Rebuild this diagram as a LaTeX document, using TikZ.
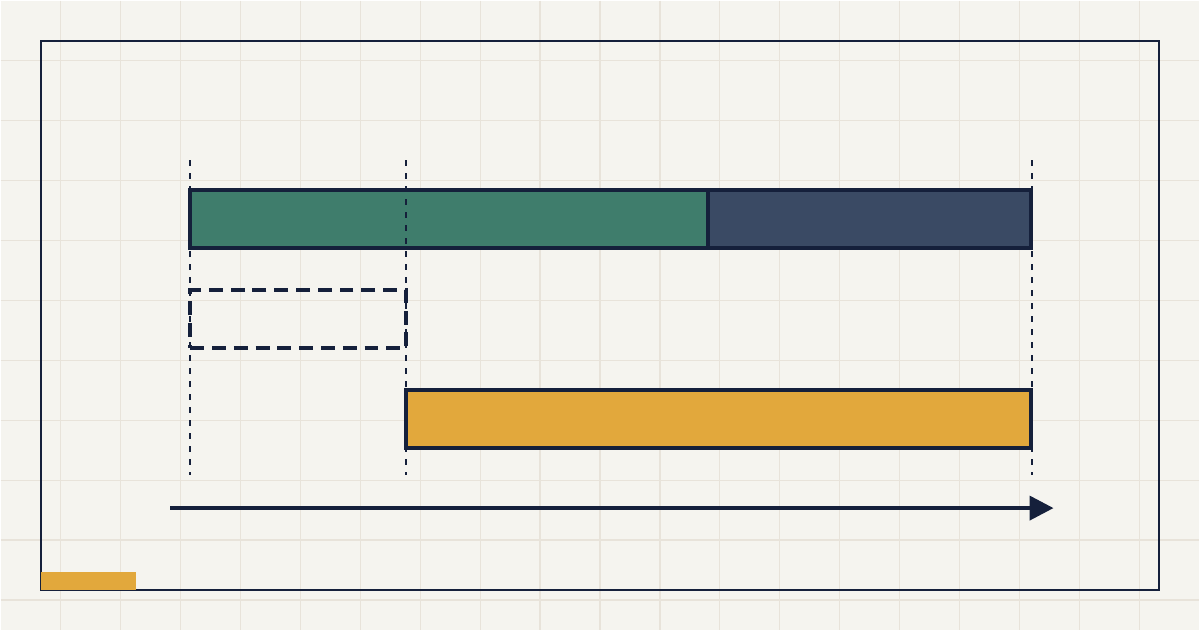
\documentclass[tikz,border=0pt]{standalone}
\usepackage{tikz}
\usetikzlibrary{positioning}
\usetikzlibrary{arrows.meta}
\definecolor{paper}{HTML}{F5F4EF}
\definecolor{gridline}{HTML}{E8E3DA}
\definecolor{ink}{HTML}{15203B}
\definecolor{sage}{HTML}{3F7D6C}
\definecolor{slate}{HTML}{3A4A64}
\definecolor{amber}{HTML}{E2A83C}
\tikzstyle{bar}=[rectangle,draw=ink,line width=2.3pt,minimum height=1.16cm,inner sep=0pt,outer sep=0pt,anchor=north west]
\tikzstyle{ghost}=[bar,fill=none,dash pattern=on 7.9pt off 4.5pt]
\tikzstyle{guide}=[draw=ink,line width=1.2pt,dash pattern=on 3.4pt off 4pt]
\tikzstyle{timeline}=[draw=ink,line width=2.3pt,-{Triangle[length=0.48cm,width=0.48cm]}]

\begin{document}
\begin{tikzpicture}[x=0.02cm, y=-0.02cm]

   \fill[paper] (0,0) rectangle (1200,630);
   \foreach \g in {60,120,...,1140}
       \draw[gridline, line width=0.7pt] (\g,0) -- (\g,630);
   \foreach \g in {60,120,...,600}
       \draw[gridline, line width=0.7pt] (0,\g) -- (1200,\g);

   \draw[ink, line width=1.2pt] (40,40) rectangle (1160,590);
   \fill[amber] (40,572) rectangle (136,590);

   \node[bar, fill=sage, minimum width=10.36cm] (done) at (190,190) {};
   \node[bar, fill=slate, minimum width=6.48cm] (rest) at (done.north east) {};
   \node[ghost, minimum width=4.32cm] (gap) at (190,290) {};
   \node[bar, fill=amber, minimum width=12.52cm] (shift) at (406,390) {};

   \foreach \gx [count=\i] in {190,406,1032} {
       \coordinate (top\i) at (\gx,160);
       \coordinate (bot\i) at (\gx,475);
       \path[guide] (top\i) -- (bot\i);
   }

   \coordinate (t0) at (170,508);
   \coordinate (t1) at (1054,508);
   \path[timeline] (t0) -- (t1);

\end{tikzpicture}
\end{document}
